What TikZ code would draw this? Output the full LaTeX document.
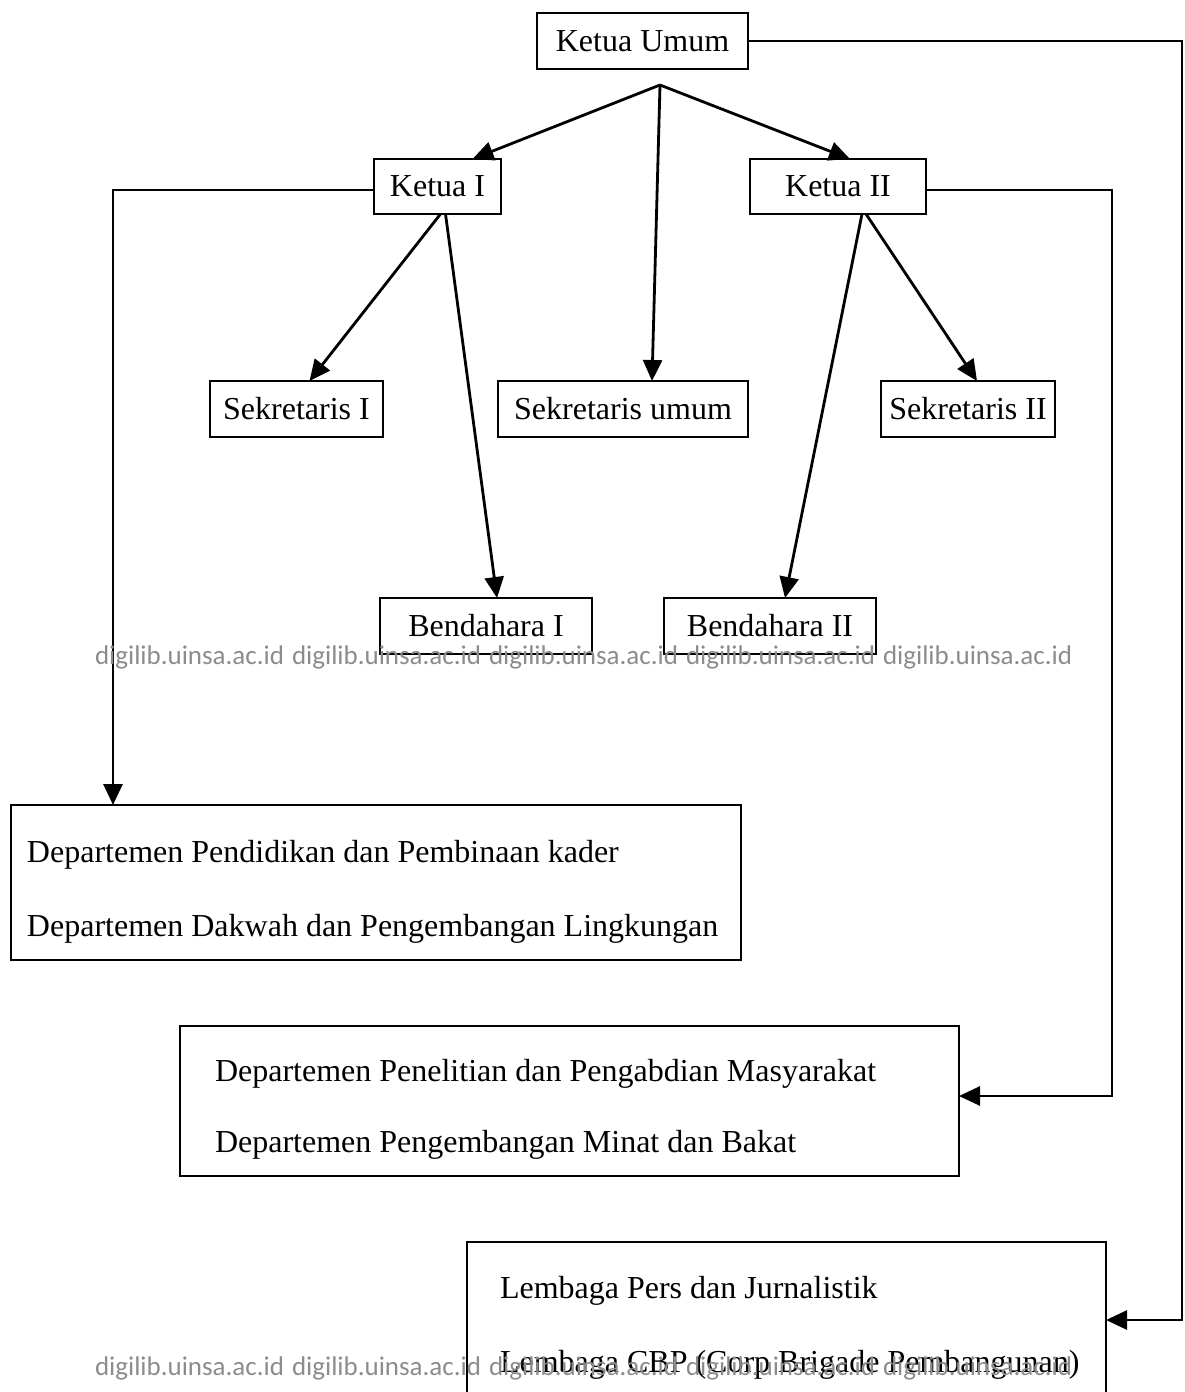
\documentclass[tikz,border=0pt]{standalone}
\usepackage{fontspec}
\setmainfont{Liberation Serif}
\newfontfamily\wmfont{Carlito}
\usetikzlibrary{arrows.meta,calc}
\definecolor{wmgray}{RGB}{140,140,140}
\begin{document}
\begin{tikzpicture}[x=1pt,y=-1pt,
  every node/.style={inner sep=0pt,outer sep=0pt},
  box/.style={draw,line width=2.6pt,rectangle,font=\fontsize{32}{38}\selectfont},
  line/.style={line width=2.8pt},
  arr/.style={line width=2.8pt,-{Triangle[length=21pt,width=19pt]}},
  txt/.style={anchor=base west,font=\fontsize{32}{38}\selectfont},
  wm/.style={anchor=base west,text=wmgray,font=\wmfont\fontsize{27}{32}\selectfont}]
\useasboundingbox (0,0) rectangle (1185,1392);
\clip (0,0) rectangle (1185,1392);
% top level
\node[box,minimum width=211pt,minimum height=56pt] (KU) at (642.5,41) {Ketua Umum};
\node[box,minimum width=127pt,minimum height=55pt] (K1) at (437.5,186.5) {Ketua I};
\node[box,minimum width=176pt,minimum height=55pt] (K2) at (838,186.5) {Ketua II};
\node[box,minimum width=173pt,minimum height=56pt] (S1) at (296.5,409) {Sekretaris I};
\node[box,minimum width=250pt,minimum height=56pt] (SU) at (623,409) {Sekretaris umum};
\node[box,minimum width=174pt,minimum height=56pt] (S2) at (968,409) {Sekretaris II};
\node[box,minimum width=212pt,minimum height=56pt] (B1) at (486,626) {Bendahara I};
\node[box,minimum width=212pt,minimum height=56pt] (B2) at (770,626) {Bendahara II};
% departments
\node[box,minimum width=730pt,minimum height=155pt] (D1) at (376,882.5) {};
\node[txt] (D1a) at (27,862) {Departemen Pendidikan dan Pembinaan kader};
\node[txt] (D1b) at (27,936) {Departemen Dakwah dan Pengembangan Lingkungan};
\node[box,minimum width=779pt,minimum height=150pt] (D2) at (569.5,1101) {};
\node[txt] (D2a) at (215,1081) {Departemen Penelitian dan Pengabdian Masyarakat};
\node[txt] (D2b) at (215,1152) {Departemen Pengembangan Minat dan Bakat};
\node[box,minimum width=639pt,minimum height=160pt] (D3) at (786.5,1322) {};
\node[txt] (D3a) at (500,1298) {Lembaga Pers dan Jurnalistik};
\node[txt] (D3b) at (500,1372) {Lembaga CBP (Corp Brigade Pembangunan)};
% connectors from Ketua Umum
\coordinate (split) at (660,85);
\draw[arr] (split) -- ([xshift=35pt]K1.north);
\draw[arr] (split) -- ([xshift=29pt]SU.north);
\draw[arr] (split) -- ([xshift=12pt]K2.north);
% Ketua I
\draw[arr] ([xshift=3pt]K1.south) -- ([xshift=13pt]S1.north);
\draw[arr] ([xshift=8pt]K1.south) -- ([xshift=11pt]B1.north);
% Ketua II
\draw[arr] ([xshift=24pt]K2.south) -- ([xshift=15pt]B2.north);
\draw[arr] ([xshift=28pt]K2.south) -- ([xshift=9pt]S2.north);
% elbow lines
\coordinate (c1) at (113,190);
\draw[arr] (K1.west |- c1) -- (c1) -- (c1 |- D1.north);
\coordinate (c2) at (1112,1096);
\draw[arr] (K2.east |- 0,190) -| (c2) -- (D2.east |- c2);
\coordinate (c3) at (1182,1320);
\draw[arr] (KU.east) -| (c3) -- (D3.east |- c3);
% watermark
\foreach \i/\x in {1/95,2/292,3/489,4/686,5/883}{
  \node[wm] (wa\i) at (\x,664) {digilib.uinsa.ac.id};
  \node[wm] (wb\i) at (\x,1375) {digilib.uinsa.ac.id};
}
\end{tikzpicture}
\end{document}
